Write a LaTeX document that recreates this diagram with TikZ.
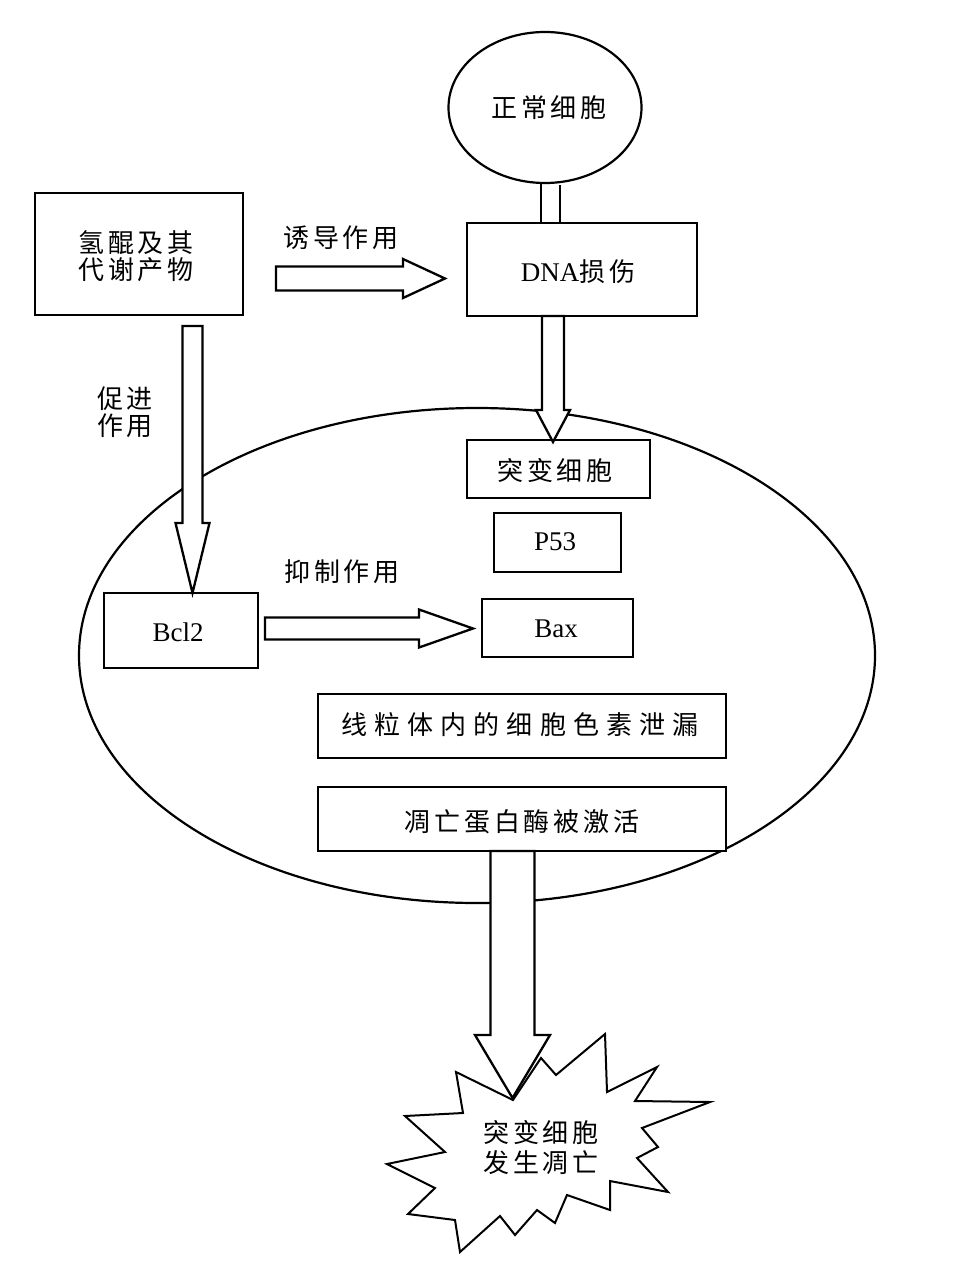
\documentclass[tikz,border=0pt]{standalone}
\usepackage{fontspec}
\setmainfont{Liberation Serif}
\newfontfamily\cjk{Noto Sans CJK SC}[LetterSpace=15]
\newfontfamily\cjkwide{Noto Sans CJK SC}[LetterSpace=27]
\usetikzlibrary{calc,shapes.geometric}
\tikzset{
  box/.style={draw,line width=2.6pt,rectangle,inner sep=0pt,fill=white},
  zh/.style={font=\cjk\fontsize{26}{27}\selectfont},
  lat/.style={font=\fontsize{27}{28}\selectfont},
  fatarr/.style={draw,fill=white,line width=2.3pt,line join=miter},
  conn/.style={line width=2.3pt},
  txt/.style={inner sep=0pt,align=center},
  oval/.style={draw,ellipse,line width=2.2pt,inner sep=0pt}
}
% #1 start, #2 tip, #3 shaft half width, #4 head half width, #5 head length
\newcommand\fatarrow[5]{%
  \draw[fatarr] ($(#1)!#3pt!90:(#2)$)
    -- ($(#2)!#5pt!(#1)!#3pt!-90:(#1)$)
    -- ($(#2)!#5pt!(#1)!#4pt!-90:(#1)$)
    -- (#2)
    -- ($(#2)!#5pt!(#1)!#4pt!90:(#1)$)
    -- ($(#2)!#5pt!(#1)!#3pt!90:(#1)$)
    -- ($(#1)!#3pt!-90:(#2)$) -- cycle;}
\begin{document}
\begin{tikzpicture}[x=1pt,y=-1pt]
\fill[white] (0,0) rectangle (959,1273);
\useasboundingbox (0,0) rectangle (959,1273);

% big cell
\node[oval,minimum width=796pt,minimum height=495pt] (cell) at (477,655.5) {};

% top nodes
\node[oval,minimum width=193pt,minimum height=151pt] (ncell) at (545,107.5) {};
\node[zh,txt] (ncellt) at (549,108) {正常细胞};
\node[box,minimum width=208pt,minimum height=122pt] (hq) at (139,254) {};
\node[zh,txt] (hqt) at (136,256) {氢醌及其\\代谢产物};
\node[box,minimum width=230pt,minimum height=93pt] (dna) at (582,269.5) {};
\node[txt] (dnat) at (578,272) {\fontsize{27}{28}\selectfont DNA{\cjk\fontsize{26}{27}\selectfont 损伤}};

% inner nodes
\node[box,minimum width=183pt,minimum height=58pt] (mut) at (558.5,469) {};
\node[zh,txt] (mutt) at (555,471) {突变细胞};
\node[box,minimum width=127pt,minimum height=59pt] (p53) at (557.5,542.5) {};
\node[lat,txt] (p53t) at (555,542) {P53};
\node[box,minimum width=151pt,minimum height=58pt] (bax) at (557.5,628) {};
\node[lat,txt] (baxt) at (556,629) {Bax};
\node[box,minimum width=154pt,minimum height=75pt] (bcl) at (181,630.5) {};
\node[lat,txt] (bclt) at (178,632) {Bcl2};
\node[box,minimum width=408pt,minimum height=64pt] (mito) at (522,726) {};
\node[txt,font=\cjkwide\fontsize{26}{27}\selectfont] (mitot) at (520,725) {线粒体内的细胞色素泄漏};
\node[box,minimum width=408pt,minimum height=64pt] (casp) at (522,819) {};
\node[zh,txt] (caspt) at (522,822) {凋亡蛋白酶被激活};

% labels
\node[zh,txt] (l1) at (341,238) {诱导作用};
\node[zh,txt] (l2) at (125,412) {促进\\作用};
\node[zh,txt] (l3) at (342,572) {抑制作用};

% connector normal cell -> DNA damage
\draw[conn] ([xshift=-4pt]ncell.south) -- ([xshift=-4pt]ncell.south |- dna.north);
\draw[conn] ([xshift=15pt,yshift=-1pt]ncell.south) -- ([xshift=15pt]ncell.south |- dna.north);

% fat arrows
\coordinate (a1s) at (276,278.5); \coordinate (a1e) at (445,278.5);
\fatarrow{a1s}{a1e}{12}{19.5}{42}
\coordinate (a2s) at (553,316); \coordinate (a2e) at (553,442);
\fatarrow{a2s}{a2e}{11}{17}{32}
\coordinate (a3s) at (192.5,326); \coordinate (a3e) at (192.5,593);
\fatarrow{a3s}{a3e}{10}{17}{70}
\coordinate (a4s) at (265,628.5); \coordinate (a4e) at (473,628.5);
\fatarrow{a4s}{a4e}{11}{19}{54}

% star
\draw[fatarr,line width=2pt] (541,1058) -- (556,1075) -- (605,1034) -- (607,1092) -- (657,1067)
  -- (635,1101) -- (710,1102) -- (642,1128) -- (658,1147) -- (637,1158) -- (668,1192)
  -- (610,1181) -- (610,1210) -- (567,1195) -- (555,1223) -- (537,1210) -- (515,1235)
  -- (500,1216) -- (460,1252) -- (455,1220) -- (408,1214) -- (435,1188) -- (387,1164)
  -- (445,1152) -- (405,1116) -- (463,1113) -- (456,1072) -- (513,1100) -- cycle;
\node[txt,font=\cjk\fontsize{26}{30}\selectfont] (apop) at (541,1148) {突变细胞\\发生凋亡};

\coordinate (a5s) at (512.5,851); \coordinate (a5e) at (512.5,1098);
\fatarrow{a5s}{a5e}{22}{37.5}{63}
\end{tikzpicture}
\end{document}
